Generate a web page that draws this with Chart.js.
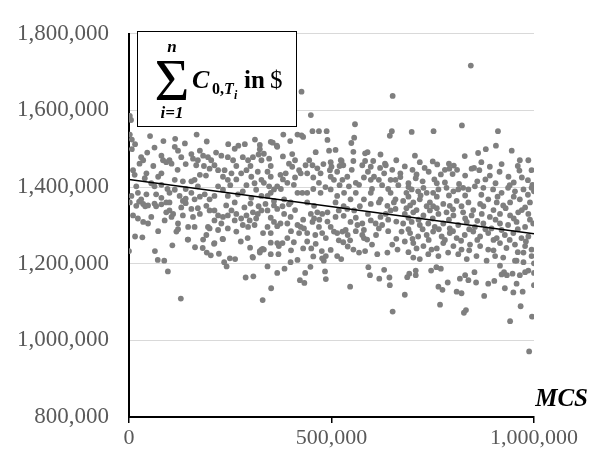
<!DOCTYPE html>
<html>
<head>
<meta charset="utf-8">
<script src="https://cdn.jsdelivr.net/npm/chart.js@4.4.1/dist/chart.umd.min.js"></script>
<style>
  html, body { margin: 0; padding: 0; background: #fff; }
  #wrap { width: 595px; height: 456px; }
</style>
</head>
<body>
<div id="wrap"><canvas id="chart" width="595" height="456"></canvas></div>
<script>
// Simulated total cost per Monte Carlo run, values in thousands: [MCS, cost]
const points = [
  [426,1649],[651,1638],[844,1717],[449,1588],[558,1564],[649,1546],[644,1534],[416,1537],[430,1531],[453,1546],
  [469,1546],[490,1523],[556,1529],[549,1515],[350,1518],[366,1505],[461,1491],[494,1495],[510,1497],[554,1492],
  [589,1491],[621,1485],[403,1486],[698,1544],[752,1546],[822,1561],[911,1546],[906,1508],[881,1499],[862,1489],
  [945,1495],[829,1481],[706,1482],[718,1465],[681,1454],[750,1467],[761,1459],[790,1461],[802,1456],[791,1448],
  [846,1448],[852,1450],[865,1444],[891,1453],[965,1470],[986,1470],[964,1443],[994,1444],[710,1433],[708,1423],
  [770,1433],[799,1434],[754,1420],[891,1430],[937,1427],[670,1436],[670,1426],[996,1406],[1000,1389],
  [2,1586],[5,1575],[2,1537],[7,1524],[15,1512],
  [52,1533],[85,1520],[114,1526],[138,1514],[167,1537],[192,1519],[245,1512],[270,1508],[286,1512],[311,1524],
  [323,1510],[355,1516],[365,1508],[381,1537],[398,1520],[426,1535],[488,1546],[525,1468],[529,1457],[500,1453],
  [496,1444],[554,1468],[583,1468],[603,1468],[632,1461],[583,1488],
  [0,1233],[15,1271],[33,1269],[72,1285],[64,1233],[71,1210],[87,1208],[96,1180],[107,1248],[128,1109],
  [145,1263],[163,1243],[182,1241],[192,1229],[202,1222],[222,1226],[210,1252],[231,1265],[235,1204],[241,1193],
  [249,1214],[262,1212],[276,1258],[293,1267],[299,1242],[288,1164],[307,1167],[305,1218],[323,1233],[330,1239],
  [330,1105],[342,1193],[351,1136],[366,1176],[384,1187],[369,1225],[399,1204],[416,1210],[422,1157],[433,1150],
  [435,1176],[448,1192],[455,1219],[476,1233],[481,1208],[484,1180],[486,1160],
  [546,1140],[591,1191],[595,1170],[630,1184],[618,1161],[643,1164],[644,1144],[651,1075],[681,1119],[687,1165],
  [692,1174],[708,1182],[708,1170],[746,1182],[759,1191],[770,1187],[764,1140],[774,1132],[768,1093],[787,1151],
  [809,1127],[821,1123],[832,1079],[827,1072],[817,1161],[830,1170],[838,1157],[853,1178],[857,1151],[877,1116],
  [887,1148],[902,1155],[916,1195],[926,1178],[920,1172],[933,1170],[947,1174],[928,1136],[949,1125],[957,1148],
  [941,1050],[967,1089],[972,1127],[965,1170],[978,1178],[986,1182],[1000,1176],[1000,1144],[995,1062],[988,971],
  [1000,1201],[974,1204],[957,1208],
  [7,1499],[30,1478],[35,1470],[26,1461],[43,1436],[39,1423],[10,1444],[14,1432],[80,1482],[84,1470],
  [92,1465],[100,1470],[105,1461],[72,1427],[80,1436],[63,1503],[113,1505],[121,1495],[129,1478],[154,1486],
  [158,1474],[170,1470],[166,1457],[175,1495],[183,1482],[195,1478],[203,1470],[199,1448],[175,1432],[162,1419],
  [211,1457],[220,1444],[236,1444],[228,1482],[244,1478],[257,1470],[232,1427],[244,1419],[253,1436],[261,1500],
  [281,1478],[294,1470],[306,1478],[277,1436],[290,1444],[302,1427],[318,1440],[323,1499],[327,1470],[327,1419],
  [6,1377],[2,1360],[22,1385],[30,1368],[43,1381],[67,1381],[80,1372],[92,1360],[113,1393],[125,1377],
  [133,1364],[154,1385],[162,1368],[187,1381],[199,1368],[211,1377],[220,1402],[232,1393],[244,1377],[261,1360],
  [269,1381],[281,1389],[302,1372],[314,1393],[327,1377],[80,1406],[63,1402],[113,1419],[133,1415],[154,1415],
  [170,1402],[18,1402],
  [18,1351],[35,1356],[47,1352],[63,1357],[10,1326],[22,1318],[35,1309],[47,1305],[55,1322],[67,1350],
  [80,1355],[100,1339],[92,1334],[109,1330],[129,1347],[133,1326],[121,1305],[117,1284],[121,1290],[154,1343],
  [158,1322],[146,1296],[162,1296],[175,1330],[191,1351],[199,1339],[211,1339],[220,1326],[232,1322],[244,1326],
  [253,1339],[265,1330],[277,1318],[290,1326],[306,1334],[318,1330],[327,1339],[195,1296],[199,1292],[220,1288],
  [244,1292],[265,1284],[281,1301],[294,1296],[310,1301],[146,1263],[183,1263],[191,1275],[211,1254],[232,1264],
  [331,1280],[327,1237],[323,1229],[306,1216],[88,1313],[105,1322],[211,1313],[228,1305],[261,1313],[298,1313],
  [314,1318],
  [333,1487],[346,1474],[342,1440],[350,1427],[333,1411],[346,1402],[358,1394],[366,1402],[374,1432],[387,1436],
  [395,1461],[403,1453],[391,1411],[407,1406],[420,1444],[424,1436],[436,1457],[440,1436],[453,1457],[416,1385],
  [428,1385],[440,1385],[465,1449],[473,1436],[469,1411],[498,1427],[506,1419],[498,1465],[523,1470],[514,1440],
  [527,1419],[539,1427],[543,1402],[560,1411],[568,1406],[576,1457],[597,1453],[597,1419],[605,1427],[617,1419],
  [634,1457],[630,1436],[646,1419],[658,1419],[473,1385],[498,1394],[514,1377],[531,1385],[547,1368],[560,1385],
  [580,1368],[597,1385],[621,1368],[646,1385],[658,1368],[383,1368],[399,1360],[342,1377],[358,1364],
  [337,1356],[358,1352],[379,1350],[395,1355],[440,1360],[457,1351],[342,1339],[366,1343],[383,1330],[399,1322],
  [391,1305],[358,1309],[366,1298],[374,1305],[342,1296],[416,1301],[424,1296],[432,1292],[449,1330],[457,1318],
  [453,1309],[465,1334],[477,1330],[490,1334],[469,1296],[477,1280],[486,1267],[498,1296],[506,1284],[514,1280],
  [527,1284],[535,1288],[510,1322],[518,1339],[539,1343],[556,1339],[547,1309],[564,1301],[576,1305],[580,1288],
  [576,1275],[580,1267],[588,1263],[597,1313],[609,1305],[617,1292],[625,1301],[621,1322],[634,1330],[646,1339],
  [658,1343],[597,1356],[617,1360],[638,1351],[654,1360],[366,1254],[379,1254],[391,1267],[407,1256],[420,1280],
  [440,1258],[461,1252],[498,1236],[477,1214],[486,1220],[518,1261],[529,1256],[546,1261],[514,1220],[524,1212],
  [554,1237],[568,1229],[583,1233],[613,1225],[638,1229],[663,1237],[370,1246],[333,1237],
  [685,1385],[698,1394],[714,1389],[727,1398],[735,1385],[751,1385],[764,1394],[784,1398],[801,1389],[813,1394],
  [825,1398],[838,1394],[854,1402],[875,1398],[899,1394],[920,1385],[936,1398],[953,1389],[974,1394],[994,1398],
  [677,1364],[702,1360],[718,1368],[743,1360],[776,1356],[809,1364],[838,1360],[867,1356],[887,1368],[908,1360],
  [941,1360],[965,1368],[990,1360],
  [694,1352],[751,1350],[792,1351],[821,1350],[875,1350],[924,1352],[978,1347],
  [681,1330],[702,1334],[727,1326],[743,1339],[764,1330],[784,1334],[801,1326],[825,1334],[846,1326],[871,1330],
  [891,1322],[916,1330],[941,1326],[961,1334],[986,1330],
  [677,1305],[698,1309],[718,1301],[739,1305],[755,1296],[776,1305],[792,1292],[813,1301],[834,1309],[854,1296],
  [875,1305],[895,1292],[916,1305],[936,1301],[957,1309],[978,1296],[998,1305],
  [673,1284],[694,1280],[714,1271],[735,1275],[751,1284],[772,1271],[792,1280],[809,1267],[829,1275],[850,1284],
  [867,1271],[887,1280],[908,1267],[928,1275],[949,1280],[969,1267],[986,1271],
  [681,1258],[702,1254],[727,1246],[747,1237],[776,1254],[801,1246],[821,1237],[842,1250],[867,1246],[887,1237],
  [916,1254],[932,1241],[953,1250],[978,1246],[994,1237],
  [702,1216],[718,1212],[739,1225],[764,1220],[788,1229],[813,1225],[834,1212],[858,1220],[883,1208],[904,1220],
  [924,1216],[953,1208],[974,1229],[994,1220],
  [690,1410],[725,1415],[780,1412],[815,1408],[860,1415],[905,1410],[950,1412],[985,1418],[740,1440],[830,1430],
  [915,1440],[970,1425],
  [25,1362],[100,1360],[140,1358],[170,1345],[240,1352],[285,1347],[300,1357],[320,1350],
  [45,1490],[60,1455],[120,1445],[140,1460],[185,1455],[215,1490],[265,1455],[300,1455],[320,1485],[55,1410],
  [95,1395],[140,1395],[190,1430],[265,1420],[290,1405],[310,1410],[40,1350],[175,1375],[250,1405],[100,1385],
  [140,1370],
  [350,1455],[380,1480],[410,1470],[445,1470],[480,1460],[520,1455],[550,1445],[590,1440],[620,1450],[650,1445],
  [660,1470],[380,1420],[410,1425],[455,1425],[485,1400],[520,1405],[580,1425],[625,1405],[350,1385],[375,1395],
  [455,1395],[510,1360],[530,1350],[570,1350],[600,1395],[640,1395],[665,1405],
  [350,1320],[410,1340],[430,1315],[470,1315],[490,1310],[530,1325],[560,1320],[590,1330],[640,1315],[660,1310],
  [350,1280],[400,1285],[440,1280],[460,1275],[540,1275],[560,1285],[610,1275],[640,1285],[660,1265],[350,1255],
  [400,1235],[430,1240],[540,1245],[600,1250],[650,1250],[350,1225],[450,1240],
  [685,1345],[710,1340],[735,1350],[760,1345],[800,1342],[850,1340],[900,1340],[930,1345],[970,1340],[690,1320],
  [715,1315],[750,1318],[790,1315],[830,1318],[860,1312],[905,1315],[950,1318],[990,1315],[690,1290],[725,1290],
  [765,1290],[800,1285],[840,1290],[880,1290],[920,1288],[960,1290],[700,1265],[740,1262],[780,1262],[820,1260],
  [860,1262],[900,1262],[940,1262],[980,1258],[710,1240],[760,1240],[840,1235],[900,1235],[960,1230],[690,1230],
  [690,1375],[720,1378],[760,1375],[790,1378],[830,1378],[870,1380],[910,1375],[950,1375],[985,1380],[700,1445],
  [730,1450],[780,1445],[810,1445],[870,1465],[920,1460],[960,1455],[690,1400],[760,1410],[880,1420],[940,1405]
];

// Linear trend line end points
const trendMcs = [0, 1000000];
const trendCost = [1420000, 1278000];

const xTicks = [0, 500000, 1000000];
const yMin = 800000;
const yMax = 1800000;

const serif = "'Liberation Serif', 'Times New Roman', serif";
const fmt = v => Number(v).toLocaleString('en-US');

// Legend box with the sum formula, and the MCS axis title
const annotations = {
  id: 'annotations',
  afterDatasetsDraw(chart) {
    const ctx = chart.ctx;
    ctx.save();
    // box
    ctx.fillStyle = '#fff';
    ctx.fillRect(137, 31, 159, 95);
    ctx.strokeStyle = '#000';
    ctx.lineWidth = 1;
    ctx.strokeRect(137.5, 31.5, 159, 95);

    ctx.fillStyle = '#000';
    ctx.textBaseline = 'alphabetic';
    ctx.textAlign = 'center';
    ctx.font = '60px ' + serif;
    ctx.fillText('\u03A3', 172, 100);
    ctx.font = 'bold italic 17px ' + serif;
    ctx.fillText('n', 172, 52);
    ctx.fillText('i=1', 172, 118);

    ctx.textAlign = 'left';
    ctx.font = 'bold italic 26px ' + serif;
    ctx.fillText('C', 192, 88);
    ctx.font = 'bold 16px ' + serif;
    ctx.fillText('0,', 212, 94);
    ctx.font = 'bold italic 16px ' + serif;
    ctx.fillText('T', 224, 94);
    ctx.font = 'bold italic 12px ' + serif;
    ctx.fillText('i', 234, 99);
    ctx.font = 'bold 25px ' + serif;
    ctx.fillText('in', 244, 88);
    ctx.font = '25px ' + serif;
    ctx.fillText('$', 270, 88);

    // x axis title
    ctx.textAlign = 'right';
    ctx.font = 'bold italic 25px ' + serif;
    ctx.fillText('MCS', 588, 406);
    ctx.restore();
  }
};

new Chart(document.getElementById('chart'), {
  type: 'scatter',
  data: {
    datasets: [
      {
        label: 'trend',
        type: 'line',
        data: trendMcs.map((x, i) => ({ x: x, y: trendCost[i] })),
        borderColor: '#000',
        borderWidth: 1.5,
        pointRadius: 0,
        fill: false,
        order: 1
      },
      {
        label: 'cost',
        data: points.map(p => ({ x: p[0] * 1000, y: p[1] * 1000 })),
        backgroundColor: '#7f7f7f',
        borderWidth: 0,
        pointRadius: 2.9,
        order: 2
      }
    ]
  },
  options: {
    responsive: false,
    animation: false,
    devicePixelRatio: 1,
    layout: { padding: { top: 23, right: 61, left: 0, bottom: 0 } },
    plugins: {
      legend: { display: false },
      tooltip: { enabled: false }
    },
    scales: {
      x: {
        type: 'linear',
        min: 0,
        max: 1000000,
        afterBuildTicks: scale => { scale.ticks = xTicks.map(v => ({ value: v })); },
        afterFit: scale => { scale.height = 39; },
        ticks: {
          callback: v => fmt(v),
          color: '#595959',
          font: { family: serif, size: 22 },
          padding: 2,
          maxRotation: 0
        },
        grid: {
          drawOnChartArea: false,
          drawTicks: true,
          tickLength: 6,
          color: '#000',
          lineWidth: 1.5
        },
        border: { color: '#000', width: 2 }
      },
      y: {
        min: yMin,
        max: yMax,
        ticks: {
          stepSize: 200000,
          callback: v => fmt(v),
          color: '#595959',
          font: { family: serif, size: 23 },
          padding: 20
        },
        afterFit: scale => { scale.width = 129; },
        grid: {
          color: '#d9d9d9',
          lineWidth: 1,
          drawTicks: false
        },
        border: { color: '#000', width: 2 }
      }
    }
  },
  plugins: [annotations]
});
</script>
</body>
</html>
